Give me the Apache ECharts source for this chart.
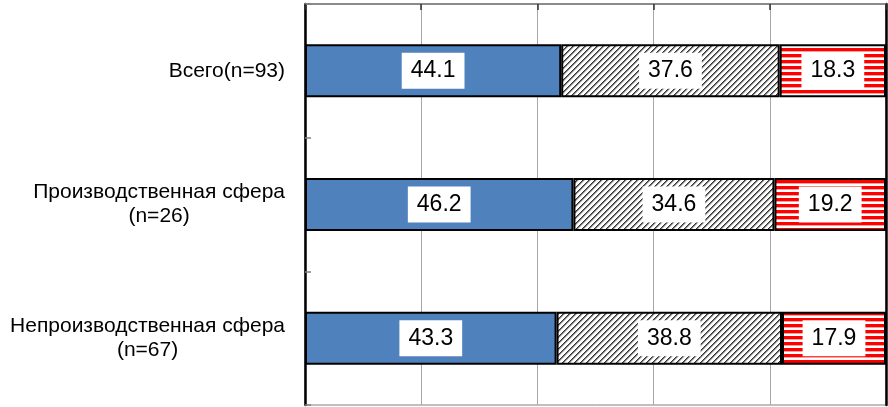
<!DOCTYPE html>
<html>
<head>
<meta charset="utf-8">
<script src="https://cdn.jsdelivr.net/npm/echarts@6/dist/echarts.min.js"></script>
<style>
  html, body { margin: 0; padding: 0; background: #fff; }
  #chart { width: 888px; height: 407px; }
</style>
</head>
<body>
<div id="chart"></div>
<script>
// Survey groups (top to bottom) and the share of each answer, %
const categories = [
  'Всего(n=93)',
  'Производственная сфера\n(n=26)',
  'Непроизводственная сфера\n(n=67)'
];
const shareA = [44.1, 46.2, 43.3];
const shareB = [37.6, 34.6, 38.8];
const shareC = [18.3, 19.2, 17.9];
const axisTicks = [0, 20, 40, 60, 80, 100];

// Fill patterns: diagonal grey hatching and red horizontal stripes
function hatchPattern() {
  const n = 6;
  const c = document.createElement('canvas');
  c.width = n; c.height = n;
  const ctx = c.getContext('2d');
  ctx.fillStyle = '#ffffff';
  ctx.fillRect(0, 0, n, n);
  for (let x = 0; x < n; x++) {
    for (let y = 0; y < n; y++) {
      const k = (x + y) % n;
      if (k === 0) {
        ctx.fillStyle = '#333333';
        ctx.fillRect(x, y, 1, 1);
      } else if (k === 1) {
        ctx.fillStyle = '#7a7a7a';
        ctx.fillRect(x, y, 1, 1);
      } else if (k === 2) {
        ctx.fillStyle = '#d0d0d0';
        ctx.fillRect(x, y, 1, 1);
      }
    }
  }
  return c;
}
function stripePattern() {
  const c = document.createElement('canvas');
  c.width = 4; c.height = 6;
  const ctx = c.getContext('2d');
  ctx.fillStyle = '#ffffff';
  ctx.fillRect(0, 0, 4, 6);
  ctx.fillStyle = '#ff0000';
  ctx.fillRect(0, 0, 4, 3);
  ctx.fillStyle = '#ffa0a0';
  ctx.fillRect(0, 3, 4, 1);
  return c;
}

const FONT = '"Liberation Sans", Arial, sans-serif';

const valueLabel = {
  show: true,
  position: 'inside',
  color: '#000',
  fontFamily: FONT,
  fontSize: 23,
  lineHeight: 23,
  backgroundColor: '#ffffff',
  padding: [7, 9, 6, 9],
  formatter: p => p.value.toFixed(1)
};

function barSeries(name, data, color) {
  return {
    name: name,
    type: 'bar',
    stack: 'total',
    barWidth: 53,
    data: data,
    itemStyle: { color: color, borderColor: '#000', borderWidth: 2 },
    label: valueLabel,
    emphasis: { disabled: true }
  };
}

const chart = echarts.init(document.getElementById('chart'), null, { renderer: 'canvas' });
chart.setOption({
  animation: false,
  grid: {
    left: 305, right: 2, top: 4, bottom: 2,
    show: true, borderColor: '#808080', borderWidth: 1
  },
  xAxis: {
    type: 'value',
    position: 'top',
    min: axisTicks[0],
    max: axisTicks[axisTicks.length - 1],
    interval: axisTicks[1] - axisTicks[0],
    axisLabel: { show: false },
    axisLine: { show: true, lineStyle: { color: '#7a7a7a', width: 1.5 } },
    axisTick: { show: true, inside: true, length: 6, lineStyle: { color: '#333', width: 1.5 } },
    splitLine: { show: true, lineStyle: { color: '#a6a6a6', width: 1 } }
  },
  yAxis: [{
    type: 'category',
    inverse: true,
    data: categories,
    axisLine: { show: true, lineStyle: { color: '#000', width: 2.5 } },
    axisTick: { show: true, inside: true, length: 6, lineStyle: { color: '#808080', width: 1.5 } },
    axisLabel: {
      margin: 20,
      formatter: v => v.split('\n').map(s => '{c|' + s + '}').join('\n'),
      rich: {
        c: { align: 'center', fontFamily: FONT, fontSize: 21, lineHeight: 24, color: '#000' }
      }
    }
  }, {
    type: 'category',
    inverse: true,
    position: 'right',
    data: categories,
    axisLine: { show: true, lineStyle: { color: '#000', width: 2.5 } },
    axisTick: { show: false },
    axisLabel: { show: false }
  }],
  series: [
    barSeries('A', shareA, '#4f81bd'),
    barSeries('B', shareB, { image: hatchPattern(), repeat: 'repeat' }),
    barSeries('C', shareC, { image: stripePattern(), repeat: 'repeat' })
  ]
});
</script>
</body>
</html>
